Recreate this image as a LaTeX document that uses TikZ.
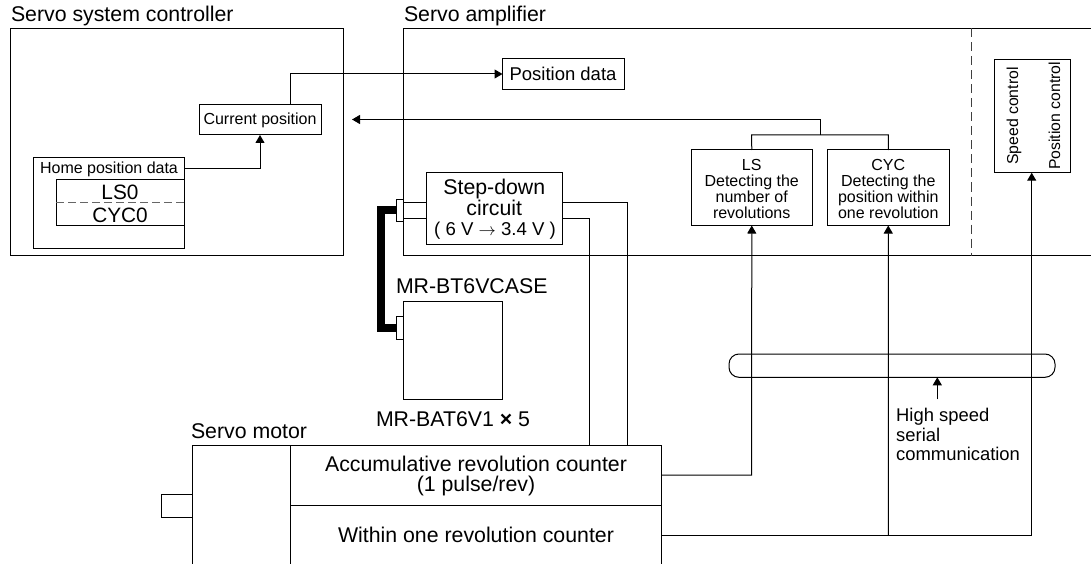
\documentclass[tikz,border=0pt]{standalone}
\usepackage{fontspec}
\setmainfont{Liberation Sans}
\usetikzlibrary{arrows.meta}
\newcommand{\fs}[1]{\fontsize{#1}{#1}\selectfont}
\newcommand{\bx}[6][]{\node[boxn,anchor=north west,minimum width=#5pt-#3pt,minimum height=#6pt-#4pt,#1] (#2) at (#3,#4) {};}
\tikzset{
  x=1pt,y=-1pt,
  line width=1pt,
  boxn/.style={draw=black,fill=none,inner sep=0pt,outer sep=0pt,line width=1pt,align=center},
  lab/.style={anchor=base west,inner sep=0pt,outer sep=0pt,font=\fs{21.3}},
  mid/.style={anchor=base,inner sep=0pt,outer sep=0pt,align=center},
  big/.style={mid,font=\fs{21.3}},
  small/.style={mid,font=\fs{16}},
  wire/.style={draw=black,line width=1pt},
  arr/.style={wire,-{Triangle[length=8pt,width=9pt]}},
  thick wire/.style={draw=black,line width=8pt,line join=miter},
}
\begin{document}
\begin{tikzpicture}
\useasboundingbox (0,0) rectangle (1091,564);
\clip (0,0) rectangle (1091,564);
% titles
\node[lab] (tctrl) at (11,22) {Servo system controller};
\node[lab] (tamp) at (404,22) {Servo amplifier};
\node[lab] (tmotor) at (191,438) {Servo motor};
\node[lab] (tcase) at (396,293) {MR-BT6VCASE};
\node[lab] (tbat) at (376,426) {MR-BAT6V1 \textbf{×} 5};
% controller
\bx{ctrl}{10.5}{28.5}{343}{255}
\bx{cur}{199}{104.5}{321}{135}
\node[small] (curt) at (260,125) {Current position};
\bx{home}{33}{157.5}{184}{248}
\node[small] (homet) at (109,173.5) {Home position data};
\bx{inner}{56}{180}{184}{225.5}
\node[big,font=\fs{20.8}] (ls0) at (120,200) {LS0};
\node[big,font=\fs{20.8}] (cyc0) at (120,222) {CYC0};
\coordinate (dl) at (56,202.5);
\coordinate (dr) at (186,202.5);
\draw[wire,dash pattern=on 8pt off 4pt,draw=black!60] (dl) -- (dr);
% amplifier
\coordinate (atr) at (1091,28.5);
\coordinate (atl) at (403.5,28.5);
\coordinate (abl) at (403.5,255.5);
\coordinate (abr) at (1091,255.5);
\draw[wire] (atr) -- (atl) -- (abl) -- (abr);
\coordinate (dt) at (971.7,28.5);
\coordinate (db) at (971.7,255.5);
\draw[wire,dash pattern=on 9pt off 5pt,draw=black!75] (dt) -- (db);
\bx{pos}{502.5}{59}{624}{90}
\node[mid,font=\fs{18.5}] (post) at (563,80.5) {Position data};
\bx{ls}{691.5}{150}{812}{225.5}
\node[small,anchor=north,execute at begin node={\baselineskip=16pt}] (lst) at (751.7,159.3) {LS\\Detecting the\\number of\\revolutions};
\bx{cyc}{827.5}{150}{949}{225.5}
\node[small,anchor=north,execute at begin node={\baselineskip=16pt}] (cyct) at (888.3,159.3) {CYC\\Detecting the\\position within\\one revolution};
\bx{ctl}{994.3}{59.3}{1070}{172.7}
\node[anchor=base west,inner sep=0pt,rotate=90,font=\fs{15.8}] (spd) at (1018,165) {Speed control};
\node[anchor=base west,inner sep=0pt,rotate=90,font=\fs{15.8}] (psc) at (1060,170) {Position control};
\bx{step}{426}{172.7}{562.7}{244}
\node[big] (st1) at (494.3,194) {Step-down};
\node[big] (st2) at (494.3,215) {circuit};
\node[mid,font=\fs{18.6}] (st3) at (495,235.5) {( 6 V $\rightarrow$ 3.4 V )};
\bx{cona}{396.3}{199}{403.5}{221.3}
\bx{bat}{403.5}{301.7}{502.7}{399.3}
\bx{conb}{396.3}{316.3}{403.5}{339}
% motor
\coordinate (ml) at (192,564);
\coordinate (mtl) at (192,445);
\coordinate (mr) at (661.5,445);
\coordinate (mbr) at (661.5,564);
\draw[wire] (ml) -- (mtl) -- (mr) -- (mbr);
\coordinate (dvt) at (290,445);
\coordinate (dvb) at (290,564);
\draw[wire] (dvt) -- (dvb);
\coordinate (hl) at (290,505.7);
\coordinate (hr) at (661.5,505.7);
\draw[wire] (hl) -- (hr);
\coordinate (sa) at (192,494.3);
\coordinate (sb) at (161.5,494.3);
\coordinate (sc) at (161.5,517.3);
\coordinate (sd) at (192,517.3);
\draw[wire] (sa) -- (sb) -- (sc) -- (sd);
\node[big] (acc1) at (476,471.7) {Accumulative revolution counter};
\node[big] (acc2) at (476,491.7) {(1 pulse/rev)};
\node[big] (within) at (476,542.7) {Within one revolution counter};
% bus
\node[draw=black,line width=1pt,rounded corners=10pt,inner sep=0pt,outer sep=0pt,anchor=north west,minimum width=326pt,minimum height=23.3pt] (bus) at (729,354) {};
\node[anchor=north west,inner sep=0pt,align=left,font=\fs{18.4},execute at begin node={\baselineskip=19.2pt}] (hs) at (896,408.3) {High speed\\serial\\communication};
\coordinate (hsa) at (937.3,399.3);
\draw[arr] (hsa) -- (hsa |- bus.south);
% connectors
\draw[arr] (home.east |- 184,168.5) -- (260,168.5) -- (260,135);
\draw[arr] (290,104.5) -- (290,74) -- (pos.west |- 290,74);
\coordinate (back) at (352,119.5);
\coordinate (fork) at (820,135);
\draw[arr] (fork) -- (820,119.5) -- (back);
\draw[wire] (ls.north) -- (751.7,135) -- (888.3,135) -- (cyc.north);
\draw[wire] (cona.east |- 403.5,202.7) -- (step.west |- 426,202.7);
\draw[wire] (cona.east |- 403.5,218.3) -- (step.west |- 426,218.3);
\draw[wire] (step.east |- 562.7,202.7) -- (627.3,202.7) -- (627.3,445);
\draw[wire] (step.east |- 562.7,218.3) -- (589.3,218.3) -- (589.3,445);
\draw[thick wire] (cona.west |- 396.3,210) -- (381,210) -- (381,327.5) -- (conb.west |- 396.3,327.5);
\draw[arr] (661.5,475) -- (751.7,475) -- (ls.south);
\draw[wire] (661.5,535.7) -- (1031.7,535.7);
\draw[arr] (888.3,535.7) -- (cyc.south);
\draw[arr] (1031.7,535.7) -- (1031.7,172.7);
\end{tikzpicture}
\end{document}
